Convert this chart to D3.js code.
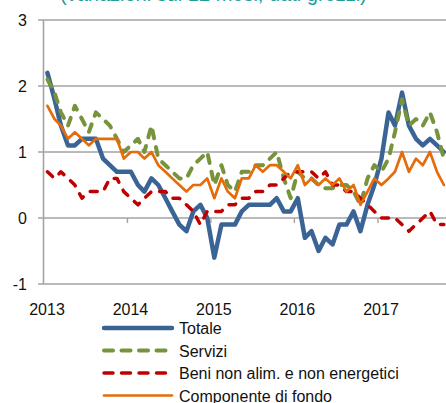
<!DOCTYPE html>
<html>
<head>
<meta charset="utf-8">
<script src="https://cdn.jsdelivr.net/npm/d3@7"></script>
<style>
  html, body { margin: 0; padding: 0; background: #fff; }
  svg { display: block; font-family: "Liberation Sans", Arial, sans-serif; }
</style>
</head>
<body>
<svg id="chart" width="446" height="403"></svg>
<script>
// ---- data (monthly, Jan 2013 – Oct 2017) ----
const startYear = 2013;
const yearLabels = ["2013", "2014", "2015", "2016", "2017"];
const yTicks = [-1, 0, 1, 2, 3];
const seriesNames = ["Totale", "Servizi", "Beni non alim. e non energetici", "Componente di fondo"];
const totale = [2.2,1.8,1.4,1.1,1.1,1.2,1.2,1.2,0.9,0.8,0.7,0.7,0.7,0.5,0.4,0.6,0.5,0.3,0.1,-0.1,-0.2,0.1,0.2,0.0,-0.6,-0.1,-0.1,-0.1,0.1,0.2,0.2,0.2,0.2,0.3,0.1,0.1,0.3,-0.3,-0.2,-0.5,-0.3,-0.4,-0.1,-0.1,0.1,-0.2,0.2,0.5,0.9,1.6,1.4,1.9,1.4,1.2,1.1,1.2,1.1,1.0];
const servizi = [2.1,1.9,1.6,1.4,1.7,1.5,1.3,1.6,1.5,1.4,1.2,1.0,1.1,1.2,1.0,1.4,0.9,0.8,0.7,0.6,0.6,0.8,0.9,1.0,0.5,0.8,0.5,0.4,0.7,0.7,0.8,0.8,0.9,1.0,0.6,0.3,0.7,0.6,0.6,0.5,0.45,0.45,0.5,0.5,0.4,0.2,0.6,0.8,0.7,0.9,1.3,1.8,1.4,1.5,1.4,1.6,1.3,0.9];
const beni = [0.7,0.6,0.7,0.6,0.5,0.3,0.4,0.4,0.4,0.6,0.6,0.4,0.3,0.2,0.3,0.4,0.4,0.4,0.3,0.3,0.2,0.1,-0.1,0.1,0.1,0.1,0.2,0.2,0.3,0.3,0.4,0.4,0.5,0.5,0.6,0.7,0.7,0.7,0.7,0.6,0.7,0.5,0.5,0.4,0.4,0.3,0.2,0.1,0.0,0.0,0.0,-0.1,-0.2,-0.1,0.0,0.1,-0.1,-0.1];
const fondo = [1.7,1.5,1.4,1.2,1.3,1.2,1.1,1.2,1.2,1.2,1.2,0.9,1.0,1.0,0.9,1.0,0.8,0.7,0.6,0.5,0.4,0.5,0.5,0.6,0.3,0.6,0.4,0.3,0.6,0.6,0.8,0.7,0.8,0.8,0.7,0.6,0.8,0.5,0.6,0.5,0.6,0.5,0.6,0.4,0.5,0.2,0.4,0.6,0.5,0.6,0.7,1.0,0.7,0.9,0.8,1.0,0.7,0.5];

// ---- styles ----
const styles = [
  { values: totale,  color: "#3A6496", width: 4.5, dash: null,  cap: "round" },
  { values: servizi, color: "#77933C", width: 4,   dash: "8,9", cap: "round" },
  { values: beni,    color: "#C00000", width: 3.5, dash: "7,9", cap: "round" },
  { values: fondo,   color: "#E46C0A", width: 2.7, dash: null,  cap: "round" }
];

const svg = d3.select("#chart");
const gridColor = "#A3A3A3";

const x = d3.scaleTime()
  .domain([new Date(startYear, 0, 1), new Date(startYear + 5, 0, 1)])
  .range([44, 44 + 60 * 6.958]);
const y = d3.scaleLinear().domain([-1, 3]).range([284, 20]);

const monthMid = i => new Date(startYear, i, 16);

// title (cut off at the top edge, as in the reference)
svg.append("text")
  .attr("x", 60).attr("y", 1)
  .attr("font-size", 20)
  .attr("fill", "#1F9E9A")
  .text("(variazioni sui 12 mesi; dati grezzi)");

// gridlines
svg.append("g").selectAll("line").data(yTicks).join("line")
  .attr("x1", 38).attr("x2", 446)
  .attr("y1", d => y(d)).attr("y2", d => y(d))
  .attr("stroke", gridColor).attr("stroke-width", 1.6);

// y axis line
svg.append("line")
  .attr("x1", 43.5).attr("x2", 43.5)
  .attr("y1", y(3)).attr("y2", y(-1))
  .attr("stroke", gridColor).attr("stroke-width", 1.6);

// y labels
svg.append("g").selectAll("text").data(yTicks).join("text")
  .attr("x", 27).attr("y", d => y(d))
  .attr("dy", "0.36em")
  .attr("text-anchor", "end")
  .attr("font-size", 16).attr("fill", "#111")
  .text(d => d);

// x ticks on zero line
const yearDates = yearLabels.map((l, i) => new Date(startYear + i, 0, 1));
svg.append("g").selectAll("line").data(yearDates.slice(1)).join("line")
  .attr("x1", d => x(d)).attr("x2", d => x(d))
  .attr("y1", y(0)).attr("y2", y(0) + 5)
  .attr("stroke", gridColor).attr("stroke-width", 1.4);

// x labels
svg.append("g").selectAll("text").data(yearLabels).join("text")
  .attr("x", (d, i) => x(yearDates[i]) + 3)
  .attr("y", 315)
  .attr("text-anchor", "middle")
  .attr("font-size", 16).attr("fill", "#111")
  .text(d => d);

// series lines
const line = d3.line()
  .x((d, i) => x(monthMid(i)))
  .y(d => y(d));

styles.forEach(s => {
  svg.append("path")
    .datum(s.values)
    .attr("d", line)
    .attr("fill", "none")
    .attr("stroke", s.color)
    .attr("stroke-width", s.width)
    .attr("stroke-linejoin", "round")
    .attr("stroke-linecap", s.cap)
    .attr("stroke-dasharray", s.dash);
});

// legend
const legendY = [328, 350.5, 373, 395.5];
const lg = svg.append("g");
styles.forEach((s, i) => {
  lg.append("line")
    .attr("x1", 104).attr("x2", 172)
    .attr("y1", legendY[i]).attr("y2", legendY[i])
    .attr("stroke", s.color)
    .attr("stroke-width", s.width)
    .attr("stroke-linecap", "round")
    .attr("stroke-dasharray", s.dash ? "9,8.5" : null);
  lg.append("text")
    .attr("x", 179).attr("y", legendY[i] + 6)
    .attr("font-size", 16).attr("fill", "#111")
    .text(seriesNames[i]);
});
</script>
</body>
</html>
